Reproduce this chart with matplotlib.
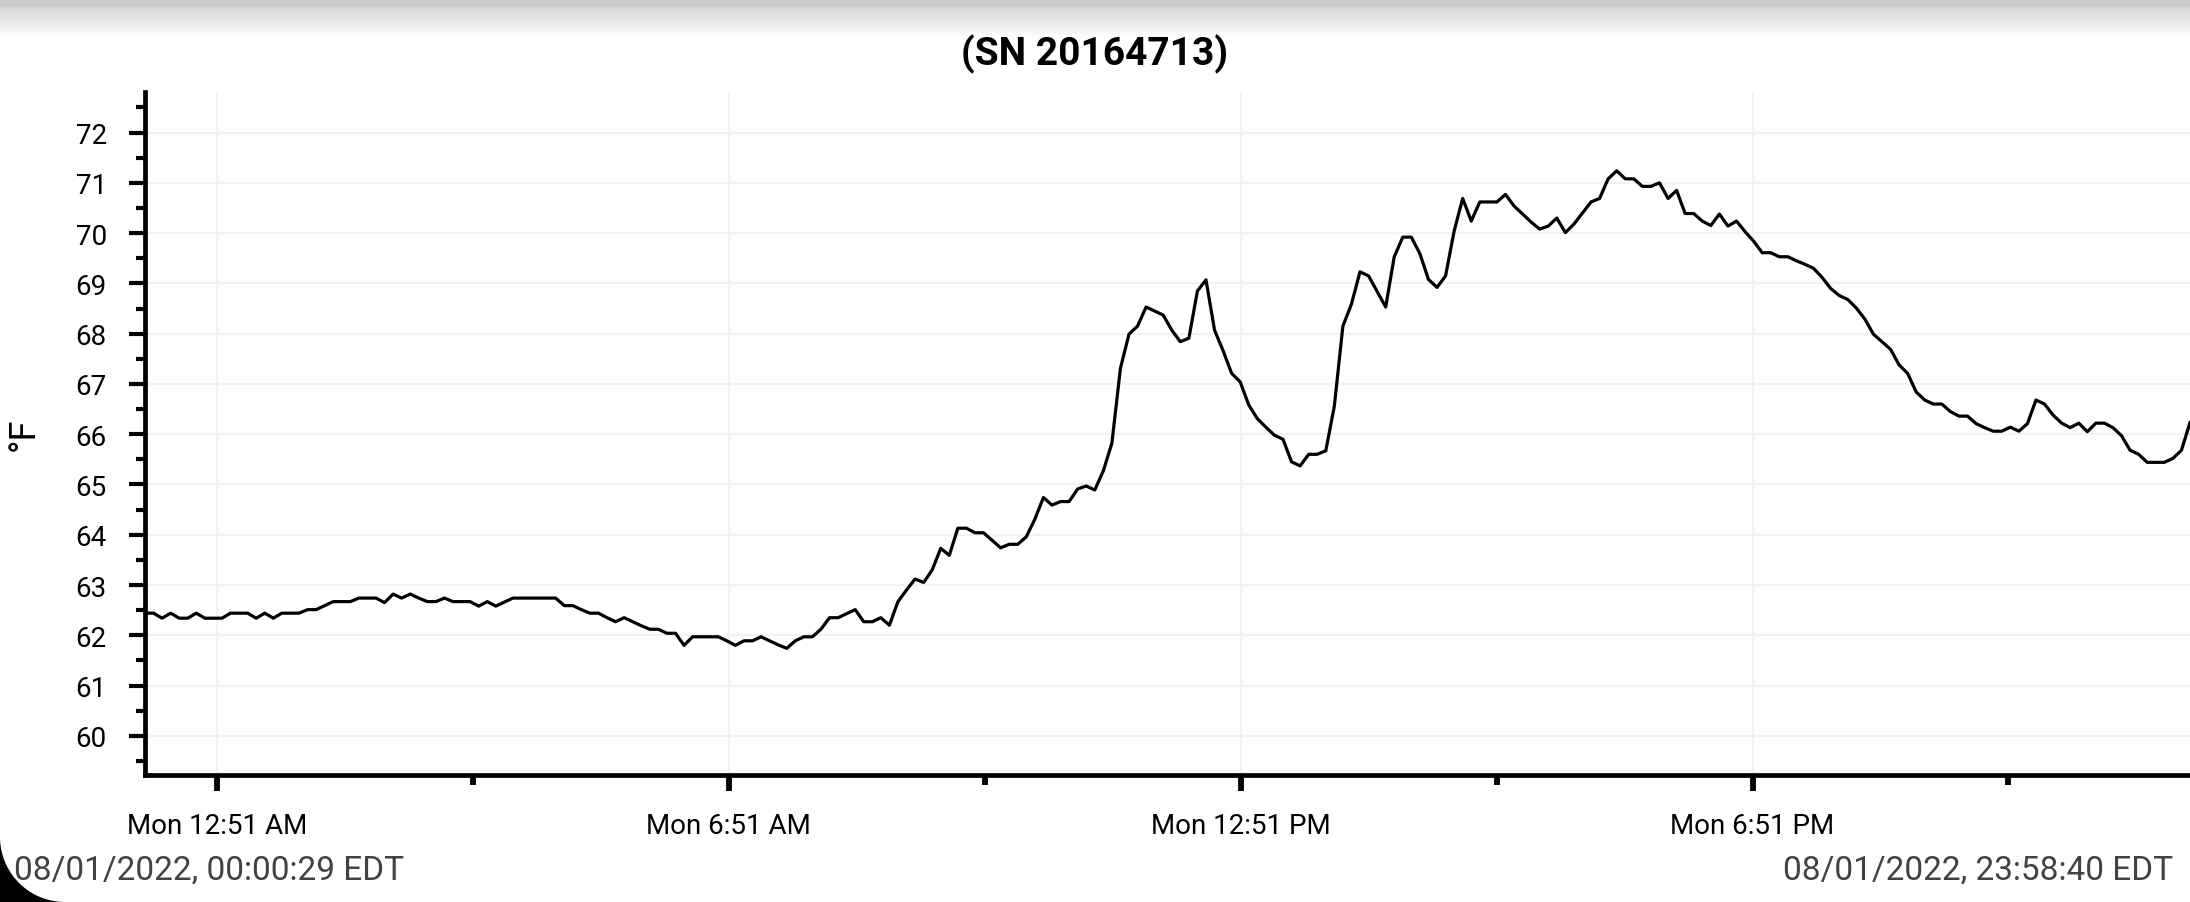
import matplotlib
matplotlib.use("Agg")
import matplotlib.pyplot as plt
import matplotlib.dates as mdates
from matplotlib.ticker import MultipleLocator
from matplotlib.patches import PathPatch
from matplotlib.path import Path
from matplotlib.transforms import IdentityTransform
import numpy as np
import pandas as pd

plt.rcParams['font.family'] = ['Roboto', 'DejaVu Sans']

# logger data, one reading about every 6 minutes
serial = "(SN 20164713)"
start_time = "2022-08-01 00:00:29"
end_time = "2022-08-01 23:58:40"
start_label = "08/01/2022, 00:00:29 EDT"
end_label = "08/01/2022, 23:58:40 EDT"

temps_f = [
    62.44, 62.44, 62.34, 62.44, 62.34, 62.34, 62.44, 62.34, 62.34, 62.34,
    62.44, 62.44, 62.44, 62.34, 62.44, 62.34, 62.44, 62.44, 62.44, 62.51,
    62.51, 62.59, 62.67, 62.67, 62.67, 62.74, 62.74, 62.74, 62.65, 62.82,
    62.74, 62.82, 62.74, 62.67, 62.67, 62.74, 62.67, 62.67, 62.67, 62.58,
    62.67, 62.58, 62.66, 62.74, 62.74, 62.74, 62.74, 62.74, 62.74, 62.59,
    62.59, 62.51, 62.44, 62.44, 62.35, 62.27, 62.35, 62.27, 62.19, 62.12,
    62.12, 62.04, 62.04, 61.80, 61.97, 61.97, 61.97, 61.97, 61.89, 61.80,
    61.89, 61.89, 61.97, 61.89, 61.81, 61.74, 61.89, 61.97, 61.97, 62.12,
    62.35, 62.35, 62.43, 62.51, 62.27, 62.27, 62.35, 62.20, 62.67, 62.90,
    63.12, 63.05, 63.30, 63.73, 63.59, 64.13, 64.13, 64.04, 64.04, 63.89,
    63.74, 63.81, 63.81, 63.96, 64.31, 64.74, 64.59, 64.66, 64.66, 64.91,
    64.97, 64.89, 65.27, 65.82, 67.31, 67.99, 68.15, 68.53, 68.45, 68.37,
    68.07, 67.84, 67.91, 68.85, 69.07, 68.07, 67.66, 67.21, 67.04, 66.58,
    66.31, 66.14, 65.98, 65.90, 65.45, 65.37, 65.60, 65.60, 65.67, 66.56,
    68.15, 68.59, 69.23, 69.15, 68.84, 68.53, 69.53, 69.92, 69.92, 69.59,
    69.08, 68.92, 69.15, 70.04, 70.69, 70.24, 70.62, 70.62, 70.62, 70.77,
    70.54, 70.38, 70.22, 70.08, 70.14, 70.30, 70.01, 70.18, 70.40, 70.62,
    70.69, 71.08, 71.24, 71.08, 71.08, 70.93, 70.93, 71.00, 70.69, 70.85,
    70.39, 70.39, 70.24, 70.15, 70.38, 70.14, 70.24, 70.03, 69.84, 69.61,
    69.61, 69.53, 69.53, 69.45, 69.38, 69.30, 69.12, 68.90, 68.76, 68.68,
    68.51, 68.29, 67.99, 67.84, 67.69, 67.38, 67.21, 66.84, 66.68, 66.60,
    66.60, 66.45, 66.36, 66.36, 66.21, 66.13, 66.06, 66.06, 66.14, 66.06,
    66.21, 66.68, 66.60, 66.38, 66.22, 66.13, 66.22, 66.05, 66.22, 66.22,
    66.13, 65.97, 65.68, 65.60, 65.44, 65.44, 65.44, 65.52, 65.68, 66.23,
]

tick_times = ["2022-08-01 00:51", "2022-08-01 06:51", "2022-08-01 12:51", "2022-08-01 18:51"]
tick_labels = ["Mon 12:51 AM", "Mon 6:51 AM", "Mon 12:51 PM", "Mon 6:51 PM"]
minor_tick_times = ["2022-08-01 03:51", "2022-08-01 09:51", "2022-08-01 15:51", "2022-08-01 21:51"]
y_ticks = [60, 61, 62, 63, 64, 65, 66, 67, 68, 69, 70, 71, 72]

times = pd.date_range(start_time, end_time, periods=len(temps_f))


def to_num(stamps):
    return mdates.date2num(pd.to_datetime(stamps).to_pydatetime())


fig = plt.figure(figsize=(21.9, 9.03), dpi=100)
ax = fig.add_axes([0.0662, 0.1406, 0.9338, 0.7560])

ax.plot(to_num(times), temps_f, color='black', lw=2.3, zorder=3)

ax.set_xlim(to_num([start_time])[0], to_num([end_time])[0])
ax.set_ylim(59.22, 72.8)

ax.set_xticks(to_num(tick_times))
ax.set_xticklabels(tick_labels)
ax.set_xticks(to_num(minor_tick_times), minor=True)
ax.set_yticks(y_ticks)
ax.yaxis.set_minor_locator(MultipleLocator(0.5))

# only left and bottom frame lines, drawn heavy
ax.spines["top"].set_visible(False)
ax.spines["right"].set_visible(False)
ax.spines["left"].set_linewidth(3.4)
ax.spines["bottom"].set_linewidth(3.4)

ax.tick_params(axis='x', which='major', length=11.5, width=4.2, labelsize=20, pad=15)
ax.tick_params(axis='x', which='minor', length=7, width=4.2)
ax.tick_params(axis='y', which='major', length=11.5, width=3.0, labelsize=20, pad=16)
ax.tick_params(axis='y', which='minor', length=6.5, width=3.0)

ax.set_axisbelow(True)
ax.grid(True, which='major', color='#f2f2f2', lw=1.5)

fig.text(0.5, 1 - 65 / 903, serial, ha='center', va='baseline', fontsize=28, fontweight='bold')
fig.text(24 / 2190, 1 - 434 / 903, '°F', rotation=90, ha='center', va='center', fontsize=26)
fig.text(14 / 2190, 1 - 880 / 903, start_label, ha='left', va='baseline', fontsize=24, color='#424242', zorder=5)
fig.text(2173 / 2190, 1 - 880 / 903, end_label, ha='right', va='baseline', fontsize=24, color='#424242')

# screenshot shadow along the top edge
shade = fig.add_axes([0, 1 - 40 / 903, 1, 40 / 903])
grad = np.concatenate([np.full(8, 0.80), np.linspace(0.84, 1.0, 32)]).reshape(-1, 1)
shade.imshow(grad, cmap='gray', vmin=0, vmax=1, aspect='auto', extent=[0, 1, 0, 1])
shade.axis('off')

# rounded black screen corner at bottom left
r = 65
ang = np.linspace(np.pi, 1.5 * np.pi, 40)
arc = np.column_stack([r + r * np.cos(ang), r + r * np.sin(ang)])
verts = np.vstack([[0, 0], [0, r], arc, [r, 0], [0, 0]])
codes = [Path.MOVETO] + [Path.LINETO] * (len(verts) - 2) + [Path.CLOSEPOLY]
fig.add_artist(PathPatch(Path(verts, codes), facecolor='black', edgecolor='none',
                         transform=IdentityTransform(), zorder=1))

fig.savefig('out.png', dpi=100)
